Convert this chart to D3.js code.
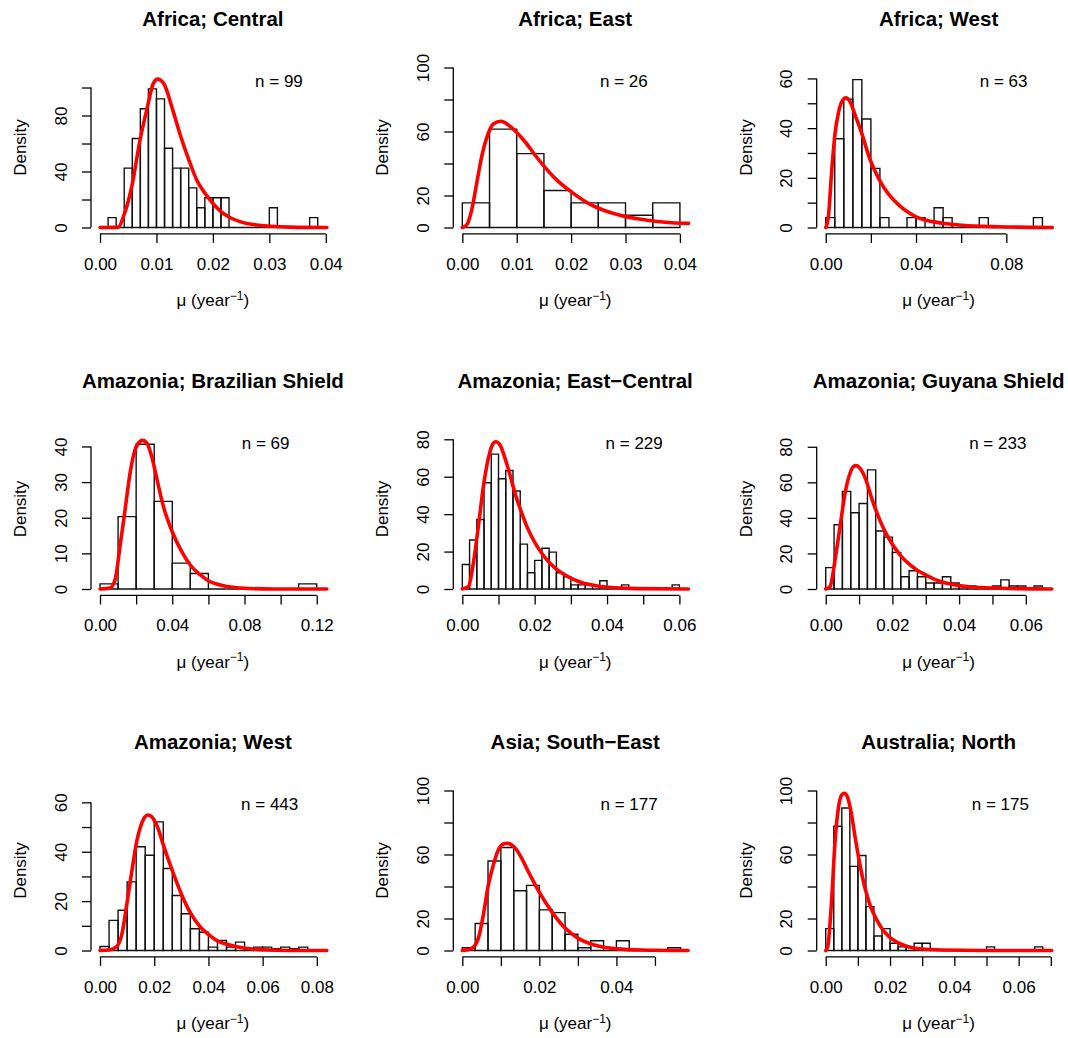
<!DOCTYPE html>
<html>
<head>
<meta charset="utf-8">
<script src="https://cdn.jsdelivr.net/npm/d3@7"></script>
<style>
  body { margin: 0; background: #fff; }
  svg { display: block; }
  text { font-family: "Liberation Sans", Arial, Helvetica, sans-serif; fill: #000; }
</style>
</head>
<body>
<svg id="chart" width="1068" height="1038"></svg>
<script>
// ---- panel labels and sample sizes ----
const panelTitles = [
  "Africa; Central", "Africa; East", "Africa; West",
  "Amazonia; Brazilian Shield", "Amazonia; East\u2212Central", "Amazonia; Guyana Shield",
  "Amazonia; West", "Asia; South\u2212East", "Australia; North"
];
const sampleSizes = [99, 26, 63, 69, 229, 233, 443, 177, 175];
// where the "n = ..." note sits, in mu units
const sampleLabelX = [0.0317, 0.0297, 0.0788, 0.0917, 0.0475, 0.0516, 0.0626, 0.0433, 0.0543];

// ---- axis limits ----
const xLimits = [0.04, 0.0415, 0.1, 0.125, 0.0624, 0.0677, 0.0833, 0.0586, 0.0702];
const yLimits = [114.3, 100, 64.4, 44.9, 85.5, 90, 64.8, 100, 100];

// ---- tick values and which of them carry a label ----
const xTicks = [
  [0, 0.01, 0.02, 0.03, 0.04], [0, 0.01, 0.02, 0.03, 0.04], [0, 0.02, 0.04, 0.06, 0.08],
  [0, 0.02, 0.04, 0.06, 0.08, 0.10, 0.12], [0, 0.01, 0.02, 0.03, 0.04, 0.05, 0.06], [0, 0.01, 0.02, 0.03, 0.04, 0.05, 0.06],
  [0, 0.02, 0.04, 0.06, 0.08], [0, 0.01, 0.02, 0.03, 0.04, 0.05], [0, 0.01, 0.02, 0.03, 0.04, 0.05, 0.06, 0.07]
];
const xTickLabels = [
  ["0.00", "0.01", "0.02", "0.03", "0.04"], ["0.00", "0.01", "0.02", "0.03", "0.04"], ["0.00", "", "0.04", "", "0.08"],
  ["0.00", "", "0.04", "", "0.08", "", "0.12"], ["0.00", "", "0.02", "", "0.04", "", "0.06"], ["0.00", "", "0.02", "", "0.04", "", "0.06"],
  ["0.00", "0.02", "0.04", "0.06", "0.08"], ["0.00", "", "0.02", "", "0.04", ""], ["0.00", "", "0.02", "", "0.04", "", "0.06", ""]
];
const yTicks = [
  [0, 20, 40, 60, 80, 100], [0, 20, 40, 60, 80, 100], [0, 10, 20, 30, 40, 50, 60],
  [0, 10, 20, 30, 40], [0, 20, 40, 60, 80], [0, 20, 40, 60, 80],
  [0, 10, 20, 30, 40, 50, 60], [0, 20, 40, 60, 80, 100], [0, 20, 40, 60, 80, 100]
];
const yTickLabels = [
  ["0", "", "40", "", "80", ""], ["0", "20", "", "60", "", "100"], ["0", "", "20", "", "40", "", "60"],
  ["0", "10", "20", "30", "40"], ["0", "20", "40", "60", "80"], ["0", "20", "40", "60", "80"],
  ["0", "", "20", "", "40", "", "60"], ["0", "20", "", "60", "", "100"], ["0", "20", "", "60", "", "100"]
];

// ---- histogram bin widths (bins start at 0) and densities ----
const binWidths = [1 / 700, 0.005, 0.004, 0.01, 0.002, 0.0025, 1 / 300, 1 / 300, 0.0025];
const densAfricaCentral = [0, 7.07, 0, 42.4, 63.6, 84.8, 99.0, 91.9, 56.6, 42.4, 42.4, 28.3, 14.1, 21.2, 21.2, 21.2, 0, 0, 0, 0, 0, 14.1, 0, 0, 0, 0, 7.07];
const densAfricaEast = [15.4, 61.5, 46.2, 23.1, 15.4, 15.4, 7.7, 15.4];
const densAfricaWest = [3.97, 35.7, 51.6, 59.5, 43.7, 23.8, 3.97, 0, 0, 3.97, 3.97, 0, 7.94, 3.97, 0, 0, 0, 3.97, 0, 0, 0, 0, 0, 3.97];
const densBrazilianShield = [1.45, 20.3, 40.6, 24.6, 7.25, 4.35, 0, 0, 0, 0, 0, 1.45];
const densEastCentral = [13.1, 26.2, 37.1, 56.8, 72.1, 58.9, 63.3, 52.4, 24.0, 8.7, 15.3, 21.8, 19.7, 8.7, 6.55, 2.18, 2.18, 2.18, 0, 4.37, 0, 0, 2.18, 0, 0, 0, 0, 0, 0, 2.18];
const densGuyanaShield = [12.0, 36.1, 54.9, 42.9, 48.1, 67.0, 32.6, 29.2, 20.6, 6.9, 10.3, 6.9, 3.4, 3.4, 6.9, 3.4, 1.7, 1.7, 0, 0, 1.7, 5.15, 1.7, 1.7, 0, 1.7];
const densAmazoniaWest = [1.62, 12.2, 16.3, 27.8, 42.0, 38.6, 52.1, 33.2, 22.3, 14.9, 8.8, 7.4, 1.35, 4.06, 1.35, 3.4, 0.68, 1.35, 1.35, 0.68, 1.35, 0.68, 1.35];
const densSouthEastAsia = [1.69, 16.9, 55.9, 64.4, 37.3, 40.7, 25.4, 23.7, 10.2, 1.69, 6.1, 0, 6.1, 0, 0, 0, 1.69];
const densAustraliaNorth = [13.7, 77.7, 89.1, 52.6, 59.4, 27.4, 9.1, 13.7, 4.57, 2.29, 2.29, 4.57, 4.57, 0, 0, 0, 0, 0, 0, 0, 2.29, 0, 0, 0, 0, 0, 2.29];

// ---- fitted density curves, [mu, density] ----
const fitAfricaCentral = [[0, 0], [0.00325, 0.3], [0.00414, 7.7], [0.00561, 29], [0.00709, 62.5], [0.00839, 86], [0.00945, 103], [0.01022, 106], [0.01134, 102.5], [0.01288, 84], [0.0143, 65], [0.01577, 48], [0.01713, 34], [0.01861, 24.4], [0.01997, 17.3], [0.02144, 11.3], [0.02292, 7.3], [0.02481, 4.2], [0.02776, 1.8], [0.03367, 0.3], [0.0402, 0]];
const fitAfricaEast = [[0, 0], [0.0008, 1.6], [0.00172, 10.9], [0.00264, 27.6], [0.00356, 44.3], [0.00478, 58.9], [0.0057, 64.7], [0.00711, 66.4], [0.00846, 64.1], [0.00987, 59.9], [0.01153, 53.6], [0.01336, 45.3], [0.01508, 38], [0.01704, 30.7], [0.01998, 22.4], [0.02316, 15.1], [0.02623, 10.5], [0.03009, 6.8], [0.03297, 5.1], [0.03542, 3.9], [0.03849, 3], [0.0416, 2.6]];
const fitAfricaWest = [[0, 0], [0.00116, 4.3], [0.00267, 23.1], [0.00413, 37.9], [0.0056, 46], [0.00711, 50.6], [0.00889, 52.2], [0.0108, 50.6], [0.013, 45.3], [0.0157, 38.6], [0.0197, 27.2], [0.0238, 19.1], [0.0281, 13.1], [0.0323, 9.1], [0.036, 6.4], [0.04, 4.3], [0.0441, 3], [0.052, 1.7], [0.0604, 0.9], [0.0767, 0.3], [0.1004, 0]];
const fitBrazilianShield = [[0, 0], [0.00554, 0.3], [0.00831, 2.6], [0.01108, 12], [0.01385, 22.2], [0.01662, 32.5], [0.01939, 39.1], [0.02216, 41.4], [0.02364, 41.7], [0.02585, 41], [0.02862, 37.2], [0.03139, 31.1], [0.03508, 23.2], [0.04026, 15.7], [0.04524, 10.5], [0.04986, 6.8], [0.0554, 4], [0.06, 2.3], [0.0683, 0.9], [0.0776, 0.3], [0.096, 0], [0.1256, 0]];
const fitEastCentral = [[0, 0], [0.00166, 1.2], [0.00304, 13.7], [0.00442, 33.3], [0.00581, 54.7], [0.00719, 69.8], [0.0083, 77], [0.00923, 78.7], [0.01042, 77], [0.01181, 69.8], [0.01319, 60.9], [0.01457, 51.1], [0.01614, 42.2], [0.01807, 32.4], [0.01991, 25.3], [0.02195, 19.1], [0.02425, 13.7], [0.02627, 10.2], [0.02839, 7.5], [0.03226, 3.9], [0.03622, 2], [0.04037, 0.9], [0.04866, 0.2], [0.0625, 0]];
const fitGuyanaShield = [[0, 0], [0.00129, 1.3], [0.00279, 16.3], [0.00429, 35.1], [0.00579, 53.8], [0.00729, 65.1], [0.00829, 68.8], [0.00909, 69.4], [0.01029, 67.9], [0.01209, 61.3], [0.0138, 51], [0.0158, 40.7], [0.0178, 32.3], [0.0198, 25.7], [0.0223, 19.1], [0.0248, 14.4], [0.0273, 10.7], [0.03, 7.9], [0.0325, 5.6], [0.035, 3.9], [0.04, 1.9], [0.0451, 0.9], [0.0528, 0.4], [0.0678, 0]];
const fitAmazoniaWest = [[0, 0], [0.00369, 0.3], [0.00615, 1.6], [0.008, 6.3], [0.00984, 18.4], [0.0117, 31.9], [0.01353, 44.1], [0.01538, 51.5], [0.01661, 54.2], [0.01784, 54.9], [0.01907, 54.2], [0.02092, 50.8], [0.02338, 42.7], [0.02682, 31.9], [0.03015, 22.5], [0.03347, 15], [0.03691, 9.6], [0.04024, 6.3], [0.04344, 3.8], [0.04676, 2.5], [0.05353, 0.9], [0.06029, 0.3], [0.07014, 0], [0.0837, 0]];
const fitSouthEastAsia = [[0, 0], [0.00243, 1.4], [0.00415, 7.6], [0.00545, 22.2], [0.00675, 40.9], [0.00804, 53.4], [0.00934, 62.8], [0.01064, 66.6], [0.01178, 67], [0.01282, 65.9], [0.01411, 62.8], [0.01541, 57.6], [0.01713, 49.3], [0.0199, 36.8], [0.0232, 24.3], [0.02647, 14.5], [0.0301, 7.6], [0.03339, 4.1], [0.03677, 2], [0.04006, 1], [0.04655, 0.3], [0.0586, 0]];
const fitAustraliaNorth = [[0, 0], [0.00062, 2.4], [0.00187, 32.6], [0.00289, 68], [0.00393, 88.9], [0.00498, 97.2], [0.00579, 98.2], [0.00672, 96.1], [0.00787, 86.8], [0.00912, 71.1], [0.01067, 53.4], [0.01223, 38.9], [0.01378, 28.4], [0.01586, 19.1], [0.01742, 13.9], [0.0197, 8.6], [0.0224, 4.9], [0.02489, 2.8], [0.02987, 0.9], [0.03609, 0.3], [0.04854, 0], [0.0703, 0]];

const densities = [densAfricaCentral, densAfricaEast, densAfricaWest, densBrazilianShield, densEastCentral,
  densGuyanaShield, densAmazoniaWest, densSouthEastAsia, densAustraliaNorth];
const fits = [fitAfricaCentral, fitAfricaEast, fitAfricaWest, fitBrazilianShield, fitEastCentral,
  fitGuyanaShield, fitAmazoniaWest, fitSouthEastAsia, fitAustraliaNorth];

// ---- page layout: a 3 x 3 grid of identical plot frames ----
const colX = [0, 362.3, 725.7];
const rowY = [0, 361.5, 723];
const frame = { left: 91, width: 243.8, top: 61.1, bottom: 233.9 };
const tickLen = 9;
const labelSize = 17;

const svg = d3.select("#chart");

panelTitles.forEach((title, i) => {
  const g = svg.append("g")
    .attr("transform", `translate(${colX[i % 3]},${rowY[Math.floor(i / 3)]})`);

  // R-style 4% padding on both axes
  const xMax = xLimits[i], yMax = yLimits[i];
  const x = d3.scaleLinear().domain([-0.04 * xMax, 1.04 * xMax])
    .range([frame.left, frame.left + frame.width]);
  const y = d3.scaleLinear().domain([-0.04 * yMax, 1.04 * yMax])
    .range([frame.bottom, frame.top]);

  const clipId = `clip${i}`;
  g.append("clipPath").attr("id", clipId).append("rect")
    .attr("x", frame.left).attr("y", frame.top)
    .attr("width", frame.width).attr("height", frame.bottom - frame.top);

  // histogram bars (zero-height bins leave a line on the baseline)
  const w = binWidths[i];
  const bins = densities[i].map((d, k) => ({ x0: k * w, x1: (k + 1) * w, d }));
  g.append("g").attr("clip-path", `url(#${clipId})`)
    .selectAll("path").data(bins).join("path")
    .attr("d", b => `M${x(b.x0)},${y(0)}V${y(b.d)}H${x(b.x1)}V${y(0)}Z`)
    .attr("fill", "none").attr("stroke", "#111").attr("stroke-width", 1.4);

  // fitted density
  const line = d3.line().x(p => x(p[0])).y(p => y(p[1])).curve(d3.curveMonotoneX);
  g.append("path").datum(fits[i])
    .attr("clip-path", `url(#${clipId})`)
    .attr("d", line)
    .attr("fill", "none").attr("stroke", "#ff0000").attr("stroke-width", 3.6)
    .attr("stroke-linejoin", "round").attr("stroke-linecap", "round");

  // x axis: line spans first to last tick
  const xt = xTicks[i], xl = xTickLabels[i];
  const xAxis = g.append("g").attr("transform", `translate(0,${frame.bottom})`)
    .call(d3.axisBottom(x).tickValues(xt).tickSize(tickLen).tickFormat((d, k) => xl[k]));
  xAxis.select(".domain").remove();
  xAxis.append("line").attr("x1", x(xt[0])).attr("x2", x(xt[xt.length - 1]))
    .attr("stroke", "#000").attr("stroke-width", 1.3);
  xAxis.selectAll(".tick line").attr("stroke", "#000").attr("stroke-width", 1.3);
  xAxis.selectAll(".tick text").attr("y", 36).attr("dy", 0)
    .attr("font-size", labelSize).attr("font-family", null).attr("fill", "#111");

  // y axis with labels rotated along the axis
  const yt = yTicks[i], yl = yTickLabels[i];
  const yAxis = g.append("g").attr("transform", `translate(${frame.left},0)`)
    .call(d3.axisLeft(y).tickValues(yt).tickSize(tickLen).tickFormat((d, k) => yl[k]));
  yAxis.select(".domain").remove();
  yAxis.append("line").attr("y1", y(yt[0])).attr("y2", y(yt[yt.length - 1]))
    .attr("stroke", "#000").attr("stroke-width", 1.3);
  yAxis.selectAll(".tick line").attr("stroke", "#000").attr("stroke-width", 1.3);
  yAxis.selectAll(".tick text").attr("x", 0).attr("y", 0).attr("dy", 0)
    .attr("transform", "translate(-24.5,0) rotate(-90)")
    .attr("text-anchor", "middle")
    .attr("font-size", labelSize).attr("font-family", null).attr("fill", "#111");

  const midX = frame.left + frame.width / 2;

  // panel title
  g.append("text").attr("x", midX).attr("y", 26)
    .attr("text-anchor", "middle").attr("font-weight", "bold").attr("font-size", 20.5)
    .text(title);

  // axis titles
  const xlab = g.append("text").attr("x", midX).attr("y", 306)
    .attr("text-anchor", "middle").attr("font-size", labelSize).attr("fill", "#111");
  xlab.append("tspan").text("\u03bc (year");
  xlab.append("tspan").attr("dy", -6.5).attr("font-size", 12).text("\u22121");
  xlab.append("tspan").attr("dy", 6.5).text(")");

  g.append("text")
    .attr("transform", `translate(26,${(frame.top + frame.bottom) / 2}) rotate(-90)`)
    .attr("text-anchor", "middle").attr("font-size", labelSize).attr("fill", "#111")
    .text("Density");

  // sample size note
  g.append("text").attr("x", x(sampleLabelX[i])).attr("y", 87.3)
    .attr("text-anchor", "middle").attr("font-size", labelSize).attr("fill", "#111")
    .text(`n = ${sampleSizes[i]}`);
});
</script>
</body>
</html>
